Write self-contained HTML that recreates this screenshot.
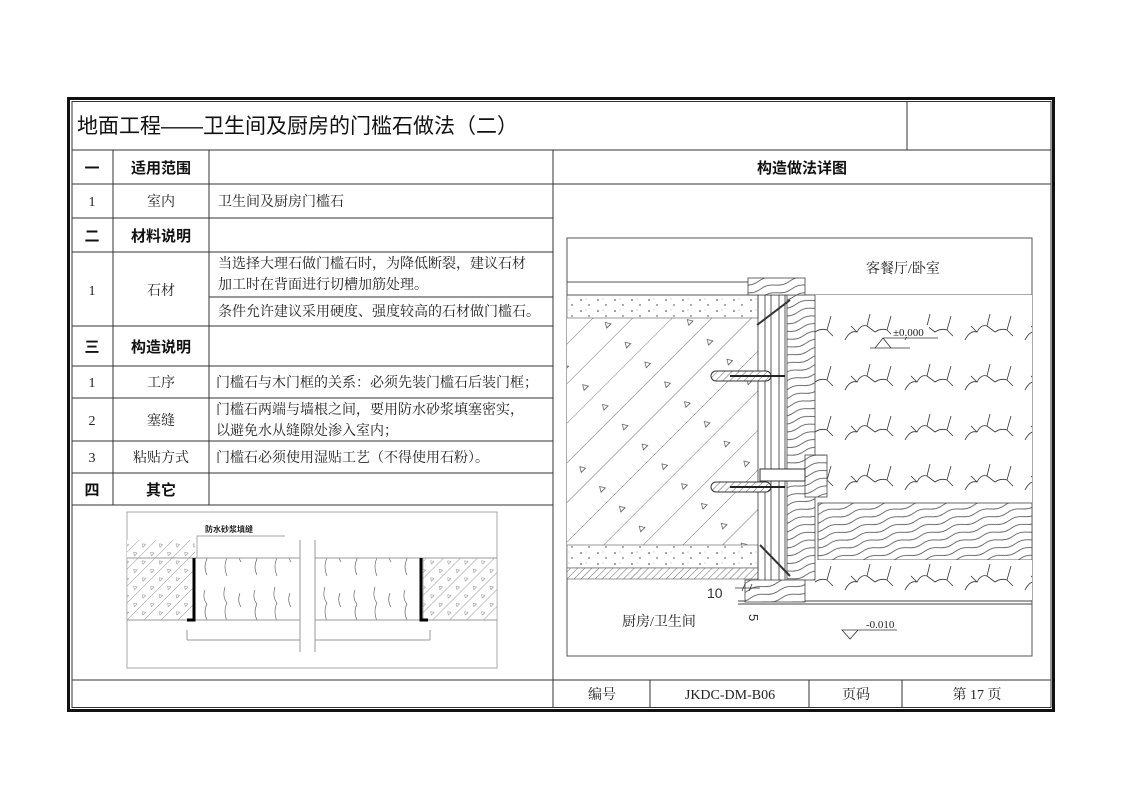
<!DOCTYPE html>
<html><head><meta charset="utf-8"><style>
body{margin:0;background:#fff;width:1122px;height:793px;overflow:hidden}
svg{display:block}
.s{font-family:"Liberation Serif","Noto Serif CJK SC",serif;font-size:14px;fill:#222}
.b{font-family:"Liberation Sans","Noto Sans CJK SC",sans-serif;font-size:15px;font-weight:bold;fill:#111}
</style></head><body>
<svg width="1122" height="793" viewBox="0 0 1122 793" xmlns="http://www.w3.org/2000/svg">
<defs>
<pattern id="diag" width="60" height="28" patternUnits="userSpaceOnUse" patternTransform="rotate(-45)">
<rect width="60" height="28" fill="#fff"/><line x1="0" y1="0" x2="60" y2="0" stroke="#444" stroke-width="0.8"/>
<path d="M20 12 l3 5 h-6z" fill="none" stroke="#444" stroke-width="0.7"/></pattern>
<pattern id="diag2" width="12" height="12" patternUnits="userSpaceOnUse" patternTransform="rotate(-45)">
<rect width="12" height="12" fill="#fff"/><line x1="0" y1="0" x2="12" y2="0" stroke="#555" stroke-width="0.6"/>
<path d="M4 5 l2 3 h-4z" fill="none" stroke="#777" stroke-width="0.5"/></pattern>
<pattern id="dots" width="17" height="11" patternUnits="userSpaceOnUse">
<rect width="17" height="11" fill="#fff"/><circle cx="3" cy="3" r="0.8" fill="#333"/><circle cx="11" cy="8" r="0.7" fill="#333"/><circle cx="8" cy="2" r="0.4" fill="#555"/></pattern>
<pattern id="hat" width="5" height="5" patternUnits="userSpaceOnUse" patternTransform="rotate(-45)">
<rect width="5" height="5" fill="#fff"/><line x1="0" y1="0" x2="5" y2="0" stroke="#444" stroke-width="0.8"/></pattern>
<pattern id="wood" width="30" height="8" patternUnits="userSpaceOnUse" patternTransform="rotate(-15)">
<rect width="30" height="8" fill="#fff"/><path d="M0 4 q7 -3 15 0 t15 0" fill="none" stroke="#444" stroke-width="0.7"/></pattern>
<pattern id="stone" width="60" height="50" patternUnits="userSpaceOnUse">
<rect width="60" height="50" fill="#fff"/>
<path d="M5 40 q5 -10 12 -8 q4 -8 10 -6 l3 -12 M17 32 l-6 -6 M27 26 l8 6 q6 -4 12 -2 l4 -14 M47 30 l6 6" fill="none" stroke="#333" stroke-width="0.8"/></pattern>
<pattern id="stone2" width="50" height="45" patternUnits="userSpaceOnUse">
<rect width="50" height="45" fill="#fff"/>
<path d="M5 5 q-3 8 2 14 q-4 8 0 16 M25 2 q-3 10 2 16 q-4 8 0 18 M40 8 q-3 8 1 14" fill="none" stroke="#555" stroke-width="0.6"/></pattern>
</defs>
<rect x="68.5" y="98.5" width="985" height="612" fill="none" stroke="#111" stroke-width="3"/>
<rect x="72" y="101.5" width="979" height="606" fill="none" stroke="#333" stroke-width="1"/>
<g stroke="#333" stroke-width="1" fill="none">
<line x1="907" y1="101" x2="907" y2="150"/>
<line x1="72" y1="150" x2="1051" y2="150"/>
<line x1="553" y1="150" x2="553" y2="708"/>
<line x1="553" y1="184" x2="1051" y2="184"/>
<line x1="72" y1="184" x2="553" y2="184"/>
<line x1="72" y1="218" x2="553" y2="218"/>
<line x1="72" y1="252" x2="553" y2="252"/>
<line x1="209" y1="297" x2="553" y2="297"/>
<line x1="72" y1="326" x2="553" y2="326"/>
<line x1="72" y1="366" x2="553" y2="366"/>
<line x1="72" y1="398" x2="553" y2="398"/>
<line x1="72" y1="441" x2="553" y2="441"/>
<line x1="72" y1="473" x2="553" y2="473"/>
<line x1="72" y1="505" x2="553" y2="505"/>
<line x1="113" y1="150" x2="113" y2="505"/>
<line x1="209" y1="150" x2="209" y2="505"/>
<line x1="72" y1="680" x2="1051" y2="680"/>
<line x1="650" y1="680" x2="650" y2="708"/>
<line x1="809" y1="680" x2="809" y2="708"/>
<line x1="902" y1="680" x2="902" y2="708"/>
</g>
<text x="77" y="133" font-family="Liberation Sans,'Noto Sans CJK SC',sans-serif" font-size="21" fill="#111">地面工程——卫生间及厨房的门槛石做法（二）</text>
<text class="b" x="92" y="173" text-anchor="middle">一</text>
<text class="b" x="161" y="173" text-anchor="middle">适用范围</text>
<text class="b" x="802" y="173" text-anchor="middle">构造做法详图</text>
<text class="s" x="92" y="206" text-anchor="middle">1</text>
<text class="s" x="161" y="206" text-anchor="middle">室内</text>
<text class="s" x="218" y="206">卫生间及厨房门槛石</text>
<text class="b" x="92" y="241" text-anchor="middle">二</text>
<text class="b" x="161" y="241" text-anchor="middle">材料说明</text>
<text class="s" x="92" y="295" text-anchor="middle">1</text>
<text class="s" x="161" y="295" text-anchor="middle">石材</text>
<text class="s" x="218" y="268">当选择大理石做门槛石时，为降低断裂，建议石材</text>
<text class="s" x="218" y="289">加工时在背面进行切槽加筋处理。</text>
<text class="s" x="218" y="316">条件允许建议采用硬度、强度较高的石材做门槛石。</text>
<text class="b" x="92" y="352" text-anchor="middle">三</text>
<text class="b" x="161" y="352" text-anchor="middle">构造说明</text>
<text class="s" x="92" y="387" text-anchor="middle">1</text>
<text class="s" x="161" y="387" text-anchor="middle">工序</text>
<text class="s" x="216" y="387">门槛石与木门框的关系：必须先装门槛石后装门框；</text>
<text class="s" x="92" y="425" text-anchor="middle">2</text>
<text class="s" x="161" y="425" text-anchor="middle">塞缝</text>
<text class="s" x="216" y="414">门槛石两端与墙根之间，要用防水砂浆填塞密实，</text>
<text class="s" x="216" y="435">以避免水从缝隙处渗入室内；</text>
<text class="s" x="92" y="462" text-anchor="middle">3</text>
<text class="s" x="161" y="462" text-anchor="middle">粘贴方式</text>
<text class="s" x="216" y="462">门槛石必须使用湿贴工艺（不得使用石粉）。</text>
<text class="b" x="92" y="495" text-anchor="middle">四</text>
<text class="b" x="161" y="495" text-anchor="middle">其它</text>
<text class="s" x="602" y="699" text-anchor="middle">编号</text>
<text class="s" x="730" y="699" text-anchor="middle">JKDC-DM-B06</text>
<text class="s" x="856" y="699" text-anchor="middle">页码</text>
<text class="s" x="977" y="699" text-anchor="middle">第 17 页</text>

<rect x="127" y="512" width="370" height="156" fill="none" stroke="#aaa"/>
<rect x="127" y="540" width="68" height="18" fill="url(#diag2)"/>
<rect x="127" y="558" width="68" height="62" fill="url(#diag2)" stroke="#999" stroke-width="0.6"/>
<rect x="423" y="558" width="74" height="62" fill="url(#diag2)" stroke="#999" stroke-width="0.6"/>
<rect x="195" y="558" width="228" height="62" fill="url(#stone2)" stroke="#999" stroke-width="0.6"/>
<line x1="127" y1="558" x2="497" y2="558" stroke="#999"/>
<line x1="127" y1="620" x2="497" y2="620" stroke="#999"/>
<line x1="187" y1="640" x2="430" y2="640" stroke="#999"/>
<line x1="187" y1="630" x2="187" y2="640" stroke="#999"/>
<line x1="430" y1="630" x2="430" y2="640" stroke="#999"/>
<rect x="300" y="540" width="15" height="112" fill="#fff"/>
<line x1="300" y1="540" x2="300" y2="652" stroke="#999"/>
<line x1="315" y1="540" x2="315" y2="652" stroke="#999"/>
<path d="M194 558 v62 h-7" fill="none" stroke="#000" stroke-width="3"/>
<path d="M421 558 v62 h7" fill="none" stroke="#000" stroke-width="3"/>
<path d="M197 558 v-22 h88" fill="none" stroke="#888" stroke-width="0.7"/>
<text x="205" y="532" font-family="'Noto Sans CJK SC',sans-serif" font-size="8" font-weight="bold" fill="#222">防水砂浆填缝</text>

<rect x="567" y="238" width="465" height="418" fill="none" stroke="#555" stroke-width="1"/>
<rect x="567" y="318" width="191" height="227" fill="url(#diag)"/>
<rect x="567" y="295" width="191" height="23" fill="url(#dots)" stroke="#555" stroke-width="0.6"/>
<rect x="567" y="545" width="191" height="23" fill="url(#dots)" stroke="#555" stroke-width="0.6"/>
<rect x="567" y="568" width="191" height="11" fill="url(#hat)" stroke="#555" stroke-width="0.6"/>
<line x1="567" y1="282" x2="748" y2="282" stroke="#555"/>
<line x1="567" y1="295" x2="1032" y2="295" stroke="#555"/>
<rect x="815" y="295" width="217" height="208" fill="url(#stone)"/>
<rect x="818" y="503" width="214" height="57" fill="url(#wood)" stroke="#444" stroke-width="0.8"/>
<rect x="815" y="560" width="217" height="40" fill="url(#stone)"/>
<line x1="738" y1="601" x2="1032" y2="601" stroke="#444"/>
<line x1="738" y1="604" x2="1032" y2="604" stroke="#444"/>
<rect x="787" y="295" width="28" height="285" fill="url(#wood)" stroke="#444" stroke-width="0.8"/>
<rect x="748" y="278" width="57" height="17" fill="url(#wood)" stroke="#444" stroke-width="0.8"/>
<rect x="745" y="580" width="60" height="22" fill="url(#wood)" stroke="#444" stroke-width="0.8"/>
<rect x="805" y="455" width="22" height="42" fill="url(#wood)" stroke="#444" stroke-width="0.8"/>
<g stroke="#333" stroke-width="0.8">
<line x1="758" y1="295" x2="758" y2="580"/><line x1="765" y1="295" x2="765" y2="580"/>
<line x1="771" y1="295" x2="771" y2="580"/><line x1="779" y1="295" x2="779" y2="580"/>
<line x1="785" y1="295" x2="785" y2="580"/>
<line x1="757" y1="325" x2="790" y2="300" stroke-width="2"/>
<line x1="760" y1="545" x2="790" y2="576" stroke-width="2"/>
</g>
<rect x="711" y="371" width="60" height="10" rx="5" fill="url(#hat)" stroke="#333"/>
<rect x="711" y="482" width="60" height="10" rx="5" fill="url(#hat)" stroke="#333"/>
<line x1="730" y1="376" x2="785" y2="376" stroke="#222" stroke-width="2"/>
<line x1="730" y1="487" x2="785" y2="487" stroke="#222" stroke-width="2"/>
<rect x="760" y="469" width="45" height="12" fill="#fff" stroke="#333"/>
<text x="866" y="273" class="s" font-size="13">客餐厅/卧室</text>
<path d="M870 348 h40 M875 348 l8 -10 l8 10 M883 338 h55" fill="none" stroke="#333" stroke-width="0.8"/>
<rect x="891" y="325" width="38" height="12" fill="#fff"/>
<text x="893" y="336" font-family="'Liberation Serif',serif" font-size="11" fill="#222">±0.000</text>
<text x="622" y="626" class="s" font-size="13">厨房/卫生间</text>
<path d="M842 630 l8 9 l8 -9 z M842 630 h55" fill="none" stroke="#333" stroke-width="0.8"/>
<text x="866" y="628" font-family="'Liberation Serif',serif" font-size="11" fill="#222">-0.010</text>
<text x="707" y="598" font-family="'Liberation Sans',sans-serif" font-size="14" fill="#333">10</text>
<text x="749" y="614" font-family="'Liberation Sans',sans-serif" font-size="13" fill="#333" transform="rotate(90 749 614)">5</text>
<path d="M735 588 h25 M745 584 l-3 7 M752 584 l-3 7" stroke="#333" fill="none" stroke-width="0.8"/>
</svg>
</body></html>
